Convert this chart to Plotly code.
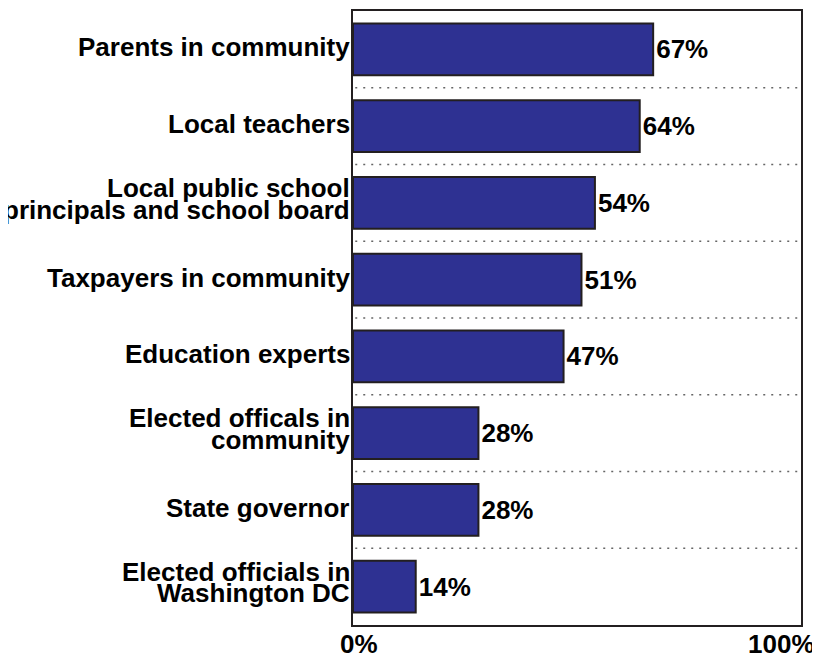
import plotly.graph_objects as go

categories = [
    "Parents in community",
    "Local teachers",
    "Local public school<br>principals and school board",
    "Taxpayers in community",
    "Education experts",
    "Elected offcals in<br>community",
    "State governor",
    "Elected officials in<br>Washington DC",
]
categories[5] = "Elected officals in<br>community"
values = [67, 64, 54, 51, 47, 28, 28, 14]
value_labels = [f"{v}%" for v in values]
x_tick_labels = ["0%", "100%"]

FONT = "Liberation Sans, Arial, sans-serif"
FS = 26
LINE_GAP = 21.5

fig = go.Figure()
fig.add_trace(go.Bar(
    y=categories, x=values, orientation="h",
    marker=dict(color="#2E3192", line=dict(color="#231F20", width=2)),
    text=value_labels, textposition="outside",
    textfont=dict(family=FONT, size=FS, color="black"),
    cliponaxis=False,
))

annotations = []
for cat in categories:
    lines = cat.split("<br>")
    n = len(lines)
    for i, ln in enumerate(lines):
        off = ((n - 1) / 2 - i) * LINE_GAP + 2 + (2 if n > 1 else 0)
        annotations.append(dict(
            x=0, xref="paper", y=cat, yref="y", text=f"<b>{ln}</b>",
            showarrow=False, xanchor="right", yanchor="middle",
            xshift=-1, yshift=off,
            font=dict(family=FONT, size=FS, color="black"),
        ))

annotations.append(dict(x=0, xref="paper", y=0, yref="paper", text=f"<b>{x_tick_labels[0]}</b>",
                        showarrow=False, xanchor="left", yanchor="middle", xshift=-15, yshift=-19,
                        font=dict(family=FONT, size=FS, color="black")))
annotations.append(dict(x=1, xref="paper", y=0, yref="paper", text=f"<b>{x_tick_labels[1]}</b>",
                        showarrow=False, xanchor="right", yanchor="middle", xshift=16, yshift=-19,
                        font=dict(family=FONT, size=FS, color="black")))

shapes = []
for i in range(len(categories) - 1):
    shapes.append(dict(type="line", xref="paper", x0=0.005, x1=0.995, yref="y",
                       y0=i + 0.5, y1=i + 0.5, layer="below",
                       line=dict(color="#666666", width=1.5, dash="2px,6px")))

fig.update_traces(texttemplate="<b>%{text}</b>")
fig.update_layout(
    width=812, height=652,
    margin=dict(l=345, r=19, t=1, b=35),
    paper_bgcolor="white", plot_bgcolor="white",
    showlegend=False, bargap=0.325,
    annotations=annotations, shapes=shapes,
    xaxis=dict(range=[0, 100], showticklabels=False, showgrid=False, zeroline=False,
               showline=True, mirror=True, linecolor="#231F20", linewidth=2, ticks=""),
    yaxis=dict(range=[len(categories) - 0.5, -0.5], showticklabels=False, showgrid=False,
               zeroline=False, showline=True, mirror=True, linecolor="#231F20", linewidth=2,
               ticks="", type="category"),
    font=dict(family=FONT),
)
fig.write_html("out.html")
